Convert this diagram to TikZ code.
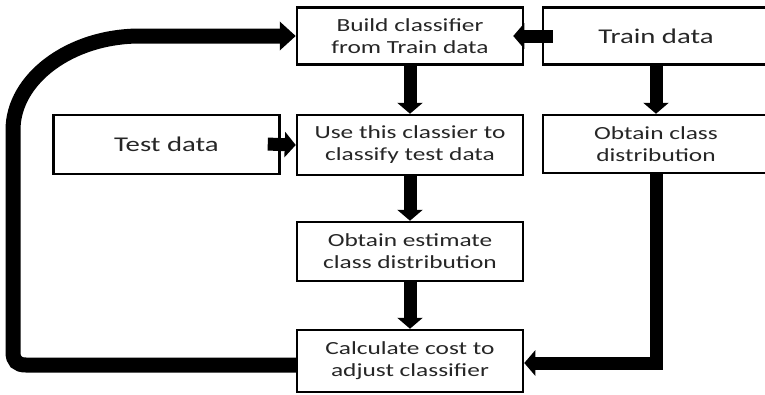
\documentclass[tikz,border=0pt]{standalone}
\usepackage{fontspec}
\setmainfont[FakeStretch=1.37]{Carlito}
\usetikzlibrary{arrows.meta}

\begin{document}
\begin{tikzpicture}[x=1pt,y=-1pt,
    stepbox/.style={draw=black,line width=2.5pt,fill=white,minimum width=226pt,
      inner sep=0pt,align=center,text=black!85,font=\fontsize{18.5}{22}\selectfont},
    datalabel/.style={font=\fontsize{21}{25}\selectfont},
    flow/.style={line width=13pt,-{Triangle[length=11pt,width=25pt]}},
    feedback/.style={line width=15pt,-{Triangle[length=16pt,width=28pt]}}]
  \useasboundingbox (0,0) rectangle (765,394);

  % process boxes
  \node[stepbox,minimum height=57pt] (build) at (410,36) {Build classifier\\from Train data};
  \node[stepbox,datalabel,minimum height=57pt] (train) at (656,36) {Train data};
  \node[stepbox,datalabel,minimum height=59pt] (test)  at (166.5,144.5) {Test data};
  \node[stepbox,minimum height=60pt] (use)   at (410,145) {Use this classier to\\classify test data};
  \node[stepbox,minimum height=58pt] (dist)  at (656,144) {Obtain class\\distribution};
  \node[stepbox,minimum height=59pt] (est)   at (410,251.5) {Obtain estimate\\class distribution};
  \node[stepbox,minimum height=62pt] (calc)  at (410,361) {Calculate cost to\\adjust classifier};

  % connectors
  \draw[flow,shorten <=-11pt,shorten >=-11pt] (train.west) -- (build.east);
  \draw[flow] (build.south) -- (use.north);
  \draw[flow] (train.south) -- (dist.north);
  \draw[flow,shorten <=-13pt] (test.east) -- (use.west);
  \draw[flow] (use.south) -- (est.north);
  \draw[flow] (est.south) -- (calc.north);
  \draw[flow] (dist.south) |- ([yshift=-2pt]calc.east);

  % feedback loop back to the classifier
  \draw[feedback] ([yshift=-4pt]calc.west) -- (26,365)
    .. controls (17,365) and (13,361) .. (13,352)
    -- (13,130)
    .. controls (13,79) and (70,36) .. (140,36)
    -- (build.west);
\end{tikzpicture}
\end{document}
